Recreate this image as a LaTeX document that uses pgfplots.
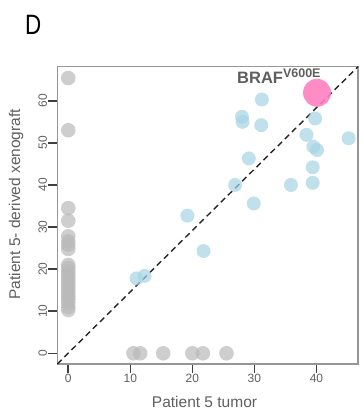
\documentclass[border=0pt]{standalone}
\usepackage{fontspec}
\setmainfont{Liberation Sans}
\usepackage{pgfplots}
\pgfplotsset{compat=1.18}
\definecolor{ptgray}{RGB}{185,185,185}
\definecolor{ptblue}{RGB}{165,212,227}
\definecolor{ptpink}{RGB}{255,128,190}
\definecolor{txtgray}{RGB}{95,95,95}
\definecolor{boxgray}{RGB}{150,150,150}
\begin{document}
\begin{tikzpicture}[x=1pt,y=1pt]
\path[use as bounding box] (0,0) rectangle (361,411);
\node[anchor=base west, xscale=0.8, inner sep=0pt, font=\fontsize{28}{28}\selectfont] at (25,376) {D};
\begin{axis}[
  at={(57.3pt,47pt)}, anchor=south west,
  scale only axis, width=300.7pt, height=297.3pt,
  xmin=-1.77, xmax=46.7, ymin=-2.54, ymax=68.1,
  xtick={0,10,20,30,40}, ytick={0,10,20,30,40,50,60},
  xtick pos=bottom, ytick pos=left,
  tick align=outside, major tick length=9pt,
  tick style={black!75, line width=1.6pt},
  axis line style={boxgray, line width=1.3pt},
  /pgf/number format/assume math mode=true,
  ticklabel style={font=\fontsize{12}{12}\selectfont, text=txtgray},
  xticklabel style={inner sep=1pt},
  yticklabel style={rotate=90, anchor=south, inner sep=1pt},
  clip=false,
]
% gray: detected only in one sample
\addplot[only marks, mark=*, mark size=7.3pt, color=ptgray, mark options={fill=ptgray, fill opacity=0.7, draw opacity=0}] coordinates {
 (0,10.3) (0,11.0) (0,12.0) (0,12.8) (0,13.5) (0,14.2) (0,15.0) (0,15.8) (0,16.5) (0,17.3) (0,18.0) (0,18.8) (0,19.5) (0,20.3) (0,21.0)
 (0,24.8) (0,25.8) (0,26.6) (0,27.8) (0,31.5) (0,34.5) (0,53.0) (0,65.4)
 (10.5,0) (11.6,0) (15.3,0) (20.0,0) (21.7,0) (25.5,0)
};
% light blue: shared
\addplot[only marks, mark=*, mark size=7pt, color=ptblue, mark options={fill=ptblue, fill opacity=0.7, draw opacity=0}] coordinates {
 (31.2,60.3) (28.0,56.2) (28.1,55.0) (31.1,54.2) (39.8,55.8) (38.4,51.9) (45.2,51.1)
 (39.5,49.1) (40.1,48.3) (29.1,46.3) (39.4,44.2) (26.9,40.0) (35.9,40.0) (39.4,40.5)
 (29.9,35.6) (19.2,32.7) (21.8,24.3) (11.0,17.8) (12.3,18.4)
};
% diagonal
\addplot[black!85, line width=1.4pt, dash pattern=on 6pt off 4pt] coordinates {(-1.77,-2.54) (46.7,68.1)};
% BRAF V600E
\addplot[only marks, mark=*, mark size=14pt, color=ptpink, mark options={fill=ptpink, fill opacity=0.9, draw opacity=0}] coordinates {(40.1,61.9)};
\node[anchor=base west, inner sep=0pt, text=txtgray, font=\bfseries\fontsize{16.5}{16.5}\selectfont] at (axis cs:27.2,64.05) {BRAF\raisebox{6.5pt}{\fontsize{12.5}{12.5}\selectfont V600E}};
\end{axis}
\node[anchor=base, inner sep=0pt, text=txtgray, font=\fontsize{15.5}{15.5}\selectfont] at (204.5,3.7) {Patient 5 tumor};
\node[anchor=base, rotate=90, inner sep=0pt, text=txtgray, font=\fontsize{15.5}{15.5}\selectfont] at (20,206.8) {Patient 5- derived xenograft};
\end{tikzpicture}
\end{document}
